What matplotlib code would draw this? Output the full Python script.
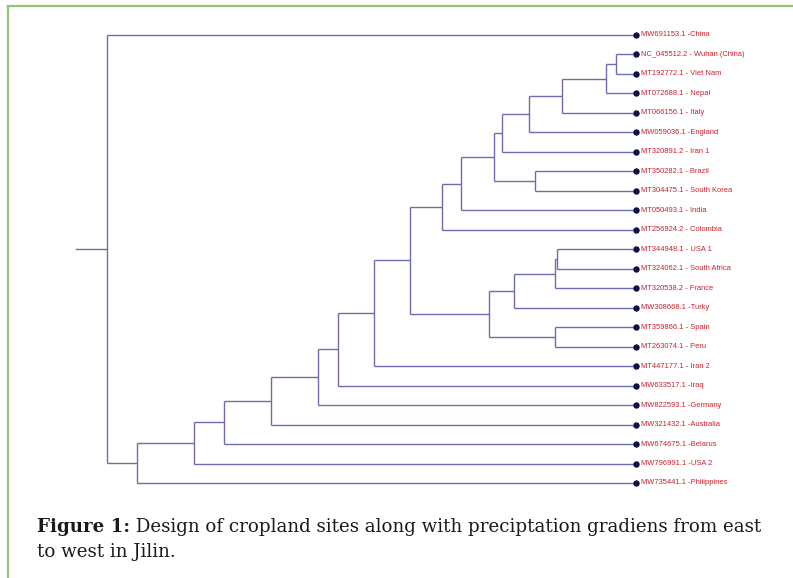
import matplotlib
matplotlib.use("Agg")
import matplotlib.pyplot as plt
from matplotlib.lines import Line2D

# ---------------- data ----------------
leaf_labels = [
    "MW691153.1 -China",
    "NC_045512.2 - Wuhan (China)",
    "MT192772.1 - Viet Nam",
    "MT072688.1 - Nepal",
    "MT066156.1 - Italy",
    "MW059036.1 -England",
    "MT320891.2 - Iran 1",
    "MT350282.1 - Brazil",
    "MT304475.1 - South Korea",
    "MT050493.1 - India",
    "MT256924.2 - Colombia",
    "MT344948.1 - USA 1",
    "MT324062.1 - South Africa",
    "MT320538.2 - France",
    "MW308668.1 -Turky",
    "MT359866.1 - Spain",
    "MT263074.1 - Peru",
    "MT447177.1 - Iran 2",
    "MW633517.1 -Iraq",
    "MW822593.1 -Germany",
    "MW321432.1 -Australia",
    "MW674675.1 -Belarus",
    "MW796991.1 -USA 2",
    "MW735441.1 -Philippines",
]
# internal nodes: (child_a, child_b, depth from root); tips at depth 1.0
# node ids continue after the 24 leaves (24, 25, ...)
node_children_a = [1, 24, 25, 26, 27, 7, 28, 30, 31, 11, 33, 34, 15, 35, 32, 38, 39, 40, 41, 42, 43, 44, 0]
node_children_b = [2, 3, 4, 5, 6, 8, 29, 9, 10, 12, 13, 14, 16, 36, 37, 17, 18, 19, 20, 21, 22, 23, 45]
node_depths = [0.962, 0.943, 0.860, 0.798, 0.747, 0.809, 0.732, 0.669, 0.633,
               0.851, 0.847, 0.770, 0.847, 0.722, 0.573, 0.504, 0.436, 0.398,
               0.310, 0.222, 0.165, 0.057, 0.0]
root_branch = 0.0586
tip_depth = 1.0

caption_bold = "Figure 1:"
caption_line1 = " Design of cropland sites along with preciptation gradiens from east"
caption_line2 = "to west in Jilin."

# ---------------- figure ----------------
W, H = 793, 578
fig = plt.figure(figsize=(W / 100, H / 100), dpi=100)
fig.patch.set_facecolor("white")

x_left_px, x_tip_px = 76, 636
y_top_px, y_bot_px = 35, 483
ax = fig.add_axes([x_left_px / W, 1 - y_bot_px / H,
                   (x_tip_px - x_left_px) / W, (y_bot_px - y_top_px) / H])
ax.set_xlim(-root_branch, tip_depth)
n_leaves = len(leaf_labels)
ax.set_ylim(n_leaves - 1, 0)
ax.axis("off")

line_col = "#6c6cae"
lw = 1.0

# positions
ypos = {i: float(i) for i in range(n_leaves)}
xpos = {i: tip_depth for i in range(n_leaves)}
for k, (a, b, d) in enumerate(zip(node_children_a, node_children_b, node_depths)):
    nid = n_leaves + k
    ypos[nid] = (ypos[a] + ypos[b]) / 2
    xpos[nid] = d
    ax.plot([d, d], [ypos[a], ypos[b]], color=line_col, lw=lw,
            solid_capstyle="butt", clip_on=False)
    for c in (a, b):
        ax.plot([d, xpos[c]], [ypos[c], ypos[c]], color=line_col, lw=lw,
                solid_capstyle="butt", clip_on=False)

root_id = n_leaves + len(node_depths) - 1
ax.plot([xpos[root_id] - root_branch, xpos[root_id]], [ypos[root_id], ypos[root_id]],
        color=line_col, lw=lw, clip_on=False)

# tips
ax.plot([tip_depth] * n_leaves, list(range(n_leaves)), "o", color="#0d1240",
        markersize=3.6, clip_on=False, zorder=5)
for i, lab in enumerate(leaf_labels):
    ax.annotate(lab, (tip_depth, i), xytext=(5, 0), textcoords="offset pixels",
                va="center", ha="left", fontsize=5.4, color="#c8202c",
                family="Liberation Sans", annotation_clip=False)

# ---------------- caption ----------------
cap_font = "DejaVu Serif"
cap_col = "#1a1a1a"
x0_px, right_px = 37, 759
base1, base2 = 532, 557
r = fig.canvas.get_renderer()

def draw_caption(fs):
    t1 = fig.text(x0_px / W, 1 - base1 / H, caption_bold, fontsize=fs, fontweight="bold",
                  family=cap_font, va="baseline", ha="left", color=cap_col)
    bb = t1.get_window_extent(r)
    t2 = fig.text(bb.x1 / W, 1 - base1 / H, caption_line1, fontsize=fs, family=cap_font,
                  va="baseline", ha="left", color=cap_col)
    t3 = fig.text(x0_px / W, 1 - base2 / H, caption_line2, fontsize=fs, family=cap_font,
                  va="baseline", ha="left", color=cap_col)
    return [t1, t2, t3]

fs = 12.0
texts = draw_caption(fs)
w = texts[1].get_window_extent(r).x1 - x0_px
for t in texts:
    t.remove()
fs = fs * (right_px - x0_px) / w
draw_caption(fs)

# ---------------- green frame ----------------
green = "#8ec673"
fig.add_artist(Line2D([8 / W, 1.0], [1 - 6 / H, 1 - 6 / H], transform=fig.transFigure,
                      color=green, lw=1.6))
fig.add_artist(Line2D([8 / W, 8 / W], [1 - 6 / H, 0.0], transform=fig.transFigure,
                      color=green, lw=1.6))

fig.savefig("out.png", dpi=100)
